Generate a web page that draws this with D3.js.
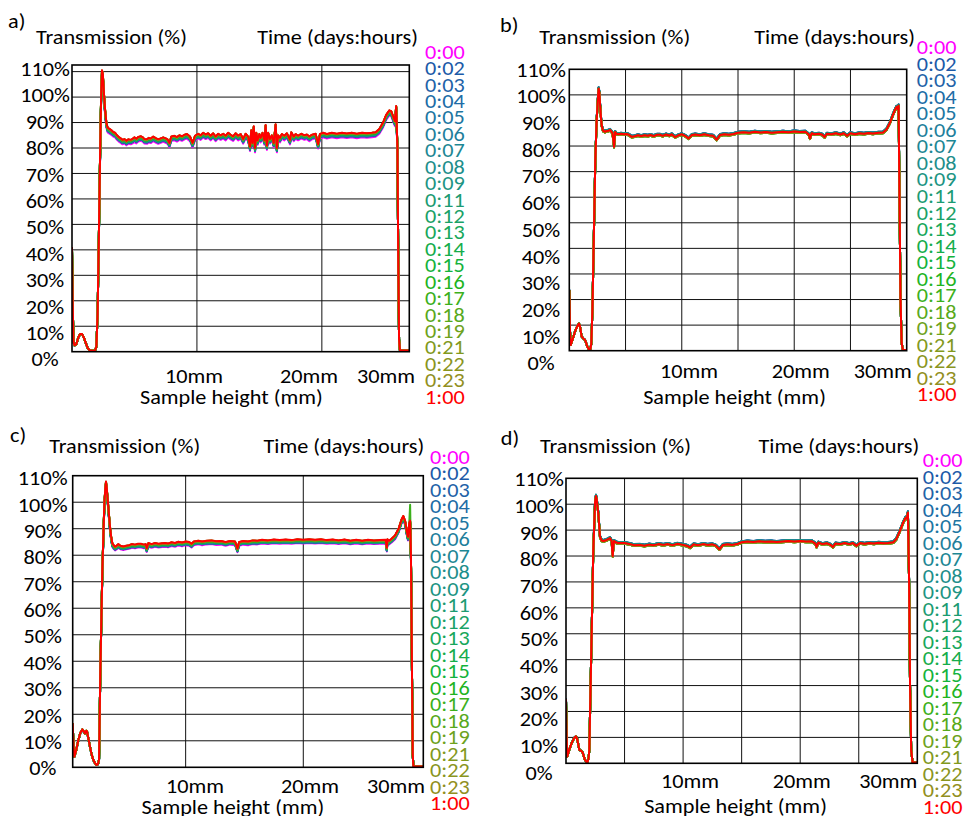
<!DOCTYPE html>
<html>
<head>
<meta charset="utf-8">
<script src="https://cdn.jsdelivr.net/npm/d3@7"></script>
<style>
  html, body { margin: 0; padding: 0; background: #fff; }
  svg { display: block; }
</style>
</head>
<body>
<svg id="chart" width="963" height="816"></svg>
<script>
// ---- Data -----------------------------------------------------------------
// Acquisition times (days:hours), oldest first; last one drawn on top.
const times = ["0:00","0:02","0:03","0:04","0:05","0:06","0:07","0:08","0:09","0:11",
  "0:12","0:13","0:14","0:15","0:16","0:17","0:18","0:19","0:21","0:22","0:23","1:00"];
const timeColors = ["#ff00ff","#1c5aa8","#1f63a8","#206ca6","#2076a2","#1f7f9c","#1e8794",
  "#1e8e8b","#1d9483","#1c9b72","#1aa167","#18a75b","#16ad4b","#14b33c","#22b41f","#3cb01c",
  "#58a91b","#6ea21c","#82991d","#8a951e","#928f21","#ff0000"];

const yTicks = [0,10,20,30,40,50,60,70,80,90,100,110];
const xTicks = [10,20,30];

// Transmission profile of the 1:00 scan (sample height in mm, transmission in %)
const heightA = [0,0.05,0.12,0.2,0.35,0.5,0.65,0.8,0.95,1.1,1.25,1.4,1.6,1.85,1.95,2.05,2.15,2.25,2.33,2.4,
  2.47,2.55,2.65,2.75,2.85,3,3.15,3.3,3.45,3.6,3.75,3.9,4.05,4.2,4.35,4.5,4.7,4.85,5,5.15,
  5.3,5.5,5.65,5.8,6,6.15,6.3,6.5,6.7,6.9,7.1,7.3,7.5,7.65,7.8,7.95,8.2,8.4,8.6,8.8,
  9,9.2,9.45,9.65,9.85,10.1,10.3,10.5,10.7,10.9,11.1,11.3,11.5,11.7,11.9,12.1,12.3,12.5,12.7,12.9,
  13.1,13.3,13.5,13.7,13.9,14.1,14.25,14.35,14.45,14.55,14.65,14.75,14.85,15,15.1,15.25,15.4,15.5,15.6,15.7,
  15.85,16,16.15,16.3,16.4,16.5,16.65,16.8,17,17.2,17.45,17.55,17.75,17.9,18.1,18.35,18.6,18.8,19,19.2,
  19.5,19.7,19.85,20.1,20.4,20.8,21.2,21.6,22,22.4,22.8,23.2,23.6,24,24.3,24.6,24.9,25.15,25.4,25.55,
  25.7,25.85,25.95,26.05,26.12,26.18,26.25,27];
const transA = [41,20,4,2.5,3,5.5,7,7,5.5,3.5,1.5,0.6,0.4,0.5,2,15,45,78,100,110.5,
  109,102,95,90,88,87.5,87,86.3,86,85,84.3,83.8,83.2,83.5,82.8,83.4,83.2,83.6,84.2,83.6,
  84.3,84.6,84.3,83.5,83.4,84,83.7,84.5,83.9,83.4,83.8,84.2,83.8,83.4,82,84.5,84.8,84.3,85,84.6,
  85.2,85.5,84.5,82,84.8,85.6,85,86,85.3,85.8,84.8,85.8,84.5,85.6,85,85.6,84.8,86,85.2,84.6,
  85.8,84.8,85.5,83.5,85.6,84.5,80.5,87,82,88.5,80,86,83,85.5,84,86,83,89,81,86,
  83.5,85,82,89.3,80,85,84,85.5,84.8,85.8,83.2,86.2,84.5,85.5,84.8,85.6,85,85.3,84.5,85.2,
  85.6,81.5,85.5,86,85.5,86,85.6,86,85.7,86,85.6,86,85.8,86,86.2,87.5,90,93,94.8,94.5,
  92.5,90.5,96.5,80,35,5,0.5,0.5];

const heightB = [0,0.06,0.12,0.3,0.5,0.7,0.86,0.95,1.1,1.25,1.4,1.5,1.6,1.75,1.85,1.95,2.05,2.14,2.31,2.43,
  2.55,2.61,2.67,2.73,2.8,2.88,3,3.15,3.33,3.5,3.62,3.75,3.83,3.93,3.98,4.03,4.07,4.2,4.36,4.6,
  4.9,5.1,5.3,5.55,5.8,6.1,6.4,6.7,7,7.2,7.5,7.8,8.07,8.3,8.6,8.9,9.1,9.4,9.7,10,
  10.3,10.6,10.9,11.2,11.6,12,12.4,12.8,13.1,13.4,13.8,14.2,14.6,15,15.5,16,16.5,17,17.5,18,
  18.5,19,19.5,20,20.5,21,21.3,21.4,21.55,21.8,22.2,22.5,22.7,22.9,23.3,23.7,24.1,24.4,24.7,25,
  25.4,25.8,26.2,26.6,27,27.5,27.9,28.2,28.5,28.8,29,29.1,29.2,29.28,29.36,29.45,29.55,29.66,30];
const transB = [23.7,8,2.2,4.5,7.4,9.5,10.6,9.5,5.5,4.8,4.2,3,1.6,0.5,0.3,2.5,15,35,74,90,
  99,102.5,101,96.6,92,88,86,85.6,85.9,86,86.3,85.6,85.2,82,79.7,83,85.5,84.8,84.6,84.8,
  84.6,84.7,84.4,83.6,83.8,84.2,83.9,84.2,84,84.3,83.9,84.4,84.4,84,84.5,84.1,84.6,83.5,84.2,84.6,
  84,83,84.3,84.5,84.2,84.6,84.2,84,82.5,84.3,84.6,84.4,84.7,85.2,85.4,85.2,85.6,85.3,85.5,85.2,
  85.4,85.6,85.4,85.7,85.5,85.6,84.5,83,85,84.6,84.8,84.4,83.5,84.8,84.6,85,84.5,85,84,85,
  84.6,85,84.8,85.1,84.9,85.2,85.3,86.5,89,92.5,94.5,95.3,94.5,95.8,60,20,3,0.3,0.3];

const heightC = [0.4,0.47,0.54,0.7,0.88,1.05,1.22,1.35,1.45,1.55,1.62,1.75,1.87,2,2.15,2.3,2.44,2.55,2.64,2.75,
  2.92,3.09,3.17,3.23,3.3,3.38,3.47,3.57,3.67,3.77,3.88,4,4.14,4.28,4.45,4.7,4.95,5.2,5.42,5.7,
  5.95,6.2,6.45,6.6,6.69,6.83,7.1,7.4,7.7,8,8.25,8.5,8.8,9.1,9.38,9.7,10,10.3,10.5,10.7,
  11.08,11.4,11.8,12.2,12.6,13,13.4,13.8,14.2,14.4,14.55,14.9,15.3,15.7,16.1,16.5,17,17.5,18,18.5,
  19,19.5,20,20.5,21,21.5,22,22.5,23,23.5,24,24.5,25,25.5,26,26.5,27,27.1,27.15,27.3,
  27.5,27.8,28.1,28.35,28.5,28.65,28.8,28.9,29,29.08,29.15,29.23,29.3,29.36,30.2];
const transC = [16.6,8,4,6.5,10.3,13,14.3,13.5,12.8,13.8,13.5,10.5,7.8,5,2.8,1.5,0.9,1.2,3,36.7,
  74.5,99.6,105,107.8,105,100.9,96,90.8,87,84.5,83.8,83.2,83.6,84.2,83.6,83.3,83.6,83.8,84.2,84,
  84.3,84.3,84,84.2,82.6,84.6,84.2,84.6,84.3,84.5,84.6,84.4,84.9,84.6,85.1,84.8,85.2,85,84.3,85.2,
  85.5,85.2,85.5,85.6,85.3,85.4,85,85.4,85.2,82.5,85,85.4,85.2,85.6,85.5,85.8,85.6,85.9,85.7,85.9,
  85.7,86,85.8,86,85.8,86,85.7,85.9,85.6,85.9,85.5,85.8,85.5,85.8,85.6,85.7,85.8,82.8,86,85.5,
  86.2,87.5,90,93.5,94.8,93,89,87,92,93,80,40,5,0.3,0.3];

const heightD = [0,0.05,0.11,0.3,0.48,0.7,0.85,0.95,1.14,1.3,1.42,1.62,1.82,1.93,1.99,2.13,2.33,2.48,2.56,2.62,
  2.76,2.9,3.04,3.2,3.47,3.76,3.9,3.95,3.99,4.05,4.1,4.3,4.47,5,5.47,5.8,6.3,6.7,7.1,7.5,
  7.9,8.3,8.7,9.1,9.5,9.9,10.3,10.6,10.9,11.3,11.7,12.1,12.5,12.8,13.1,13.4,13.8,14.2,14.6,15,
  15.5,16,16.5,17,17.5,18,18.5,19,19.5,20,20.5,21,21.3,21.4,21.55,21.9,22.3,22.6,22.8,23,
  23.4,23.8,24.2,24.5,24.8,25.1,25.5,25.9,26.3,26.7,27.1,27.5,27.95,28.2,28.5,28.8,29,29.1,29.2,29.3,
  29.38,29.48,29.6,30];
const transD = [24.8,10,2.6,5.5,7.8,9.8,10.4,9.5,5.2,4.8,4.2,1.3,0.2,2,5,36.6,82,100.6,103.2,102,
  96.5,87.5,86,85.8,86.2,86.9,85.8,82,80,84,85.8,85.2,85,85,84.6,84.2,84.3,84,84.4,84.2,
  84.6,84.3,84.6,84.2,84.7,84.4,84,83.3,84.5,84.2,84.6,84.3,84.5,84,82.6,84.3,84.5,84.3,84.6,85.3,
  85.6,85.4,85.7,85.5,85.6,85.4,85.6,85.8,85.6,85.8,85.6,85.7,84.8,83.5,85.2,84.6,84.9,84.3,83.5,84.8,
  84.6,85,84.6,85,84,85,84.7,85,84.8,85.1,84.9,85,85.3,86.5,89.5,93,94.8,94.5,96.8,70,
  30,5,0.3,0.3];

// Level of each scan relative to the 1:00 scan, in % points on the ~85 % plateau
const shiftA = [-1.8,-1.3,-1.25,-1.2,-1.1,-1.0,-0.95,-0.9,-0.8,-0.7,-0.6,-0.55,-0.5,-0.45,-0.4,-0.3,-0.25,-0.2,-0.15,-0.1,-0.05,0];
const shiftB = [-0.2,0.4,0.38,0.35,0.33,0.3,0.28,0.25,0.2,0.1,0.0,-0.1,-0.2,-0.25,-0.3,-0.3,-0.3,-0.28,-0.25,-0.2,-0.15,0];
const shiftC = [-1.4,-1.1,-1.05,-1.0,-0.95,-0.9,-0.85,-0.8,-0.7,-0.6,-0.55,-0.5,-0.45,-0.4,-0.35,-0.3,-0.25,-0.2,-0.15,-0.1,-0.05,0];
const shiftD = [-0.2,0.4,0.38,0.35,0.33,0.3,0.28,0.25,0.2,0.1,0.0,-0.1,-0.2,-0.25,-0.3,-0.3,-0.3,-0.28,-0.25,-0.2,-0.15,0];

// Individual readings that depart from the common profile
const spikeC = [{ time: "0:17", height: 29.08, value: 99 }];

// ---- Layout ---------------------------------------------------------------
const panels = [
  { letter: "a)", height: heightA, trans: transA, shift: shiftA, spikes: [],
    left: 72, right: 409.3, top: 65, bottom: 351.7, xDomain: [0, 27], yMax: 112.6, xGrid: [10, 20],
    letterX: 8, letterY: 28, titleY: 43.5, transX: 36, timeRight: 418,
    yLabelX: 45, yLabelRange: [359.3, 69], xLabelRange: [194, 309], xLabelY: 383.3, xLastRight: 415,
    sampleX: 231.3, sampleY: 404, legendX: 425, legendY: [51.7, 396.7] },
  { letter: "b)", height: heightB, trans: transB, shift: shiftB, spikes: [],
    left: 569.3, right: 906.7, top: 69.3, bottom: 350.7, xDomain: [0, 30], yMax: 110, xGrid: [5, 10, 15, 20, 25],
    letterX: 500, letterY: 32, titleY: 43.5, transX: 539.3, timeRight: 915,
    yLabelX: 541, yLabelRange: [363.3, 69.7], xLabelRange: [689, 800.7], xLabelY: 378, xLastRight: 911.7,
    sampleX: 734.5, sampleY: 404, legendX: 916.7, legendY: [47.3, 394.3] },
  { letter: "c)", height: heightC, trans: transC, shift: shiftC, spikes: spikeC,
    left: 72.7, right: 423.3, top: 475.7, bottom: 767.3, xDomain: [0.4, 30.2], yMax: 110, xGrid: [10, 20],
    letterX: 10, letterY: 441.5, titleY: 453.3, transX: 49.3, timeRight: 424.3,
    yLabelX: 42.7, yLabelRange: [768.3, 478.3], xLabelRange: [195, 310], xLabelY: 793.3, xLastRight: 425,
    sampleX: 232.9, sampleY: 813.5, legendX: 430, legendY: [456.7, 803.3] },
  { letter: "d)", height: heightD, trans: transD, shift: shiftD, spikes: [],
    left: 566, right: 917.3, top: 478.3, bottom: 763.3, xDomain: [0, 30], yMax: 110, xGrid: [5, 10, 15, 20, 25],
    letterX: 500.7, letterY: 445, titleY: 453.3, transX: 540, timeRight: 919.3,
    yLabelX: 539, yLabelRange: [772.7, 479.3], xLabelRange: [690, 801.7], xLabelY: 787.7, xLastRight: 917.3,
    sampleX: 735.5, sampleY: 812.5, legendX: 922.7, legendY: [460, 806.7] }
];

const FONT = "Carlito, Calibri, Lato, 'Open Sans', sans-serif";
const FS = 20;
const svg = d3.select("#chart");
svg.append("rect").attr("width", 963).attr("height", 816).attr("fill", "#fff");

// Horizontal squeeze so the fallback font keeps the narrow Calibri-like widths
const probe = svg.append("text").attr("font-family", FONT).attr("font-size", FS).text("Transmission (%)");
const SX = 151 / probe.node().getComputedTextLength();
probe.remove();

function label(g, x, y, s, anchor, fill) {
  return g.append("text")
    .attr("transform", `translate(${x},${y}) scale(${SX},1)`)
    .attr("text-anchor", anchor)
    .attr("font-family", FONT)
    .attr("font-size", FS)
    .attr("fill", fill || "#000")
    .text(s);
}

panels.forEach((p, pi) => {
  const g = svg.append("g");
  const x = d3.scaleLinear().domain(p.xDomain).range([p.left, p.right]);
  const y = d3.scaleLinear().domain([0, p.yMax]).range([p.bottom, p.top]);
  const yLab = d3.scaleLinear().domain([0, 110]).range(p.yLabelRange);
  const xLab = d3.scaleLinear().domain([10, 20]).range(p.xLabelRange);

  // grid
  g.append("g").selectAll("line").data(yTicks.filter(v => v > 0 && v < p.yMax)).join("line")
    .attr("x1", p.left).attr("x2", p.right)
    .attr("y1", d => y(d)).attr("y2", d => y(d))
    .attr("stroke", "#111").attr("stroke-width", 1);
  g.append("g").selectAll("line").data(p.xGrid).join("line")
    .attr("x1", d => x(d)).attr("x2", d => x(d))
    .attr("y1", p.top).attr("y2", p.bottom)
    .attr("stroke", "#111").attr("stroke-width", 1);

  // curves
  const clipId = "clip" + pi;
  g.append("clipPath").attr("id", clipId).append("rect")
    .attr("x", p.left).attr("y", p.top).attr("width", p.right - p.left).attr("height", p.bottom - p.top);
  const line = d3.line().x(d => x(d[0])).y(d => y(d[1]));
  const curves = g.append("g").attr("clip-path", `url(#${clipId})`);
  times.forEach((t, i) => {
    const pts = p.height.map((h, k) => {
      const own = p.spikes.find(s => s.time === t && s.height === h);
      const v = own ? own.value : p.trans[k] * (1 + p.shift[i] / 85);
      return [h, v];
    });
    curves.append("path").datum(pts)
      .attr("d", line)
      .attr("fill", "none")
      .attr("stroke", timeColors[i])
      .attr("stroke-width", 2)
      .attr("stroke-linejoin", "round");
  });

  // frame
  g.append("rect").attr("x", p.left).attr("y", p.top)
    .attr("width", p.right - p.left).attr("height", p.bottom - p.top)
    .attr("fill", "none").attr("stroke", "#000").attr("stroke-width", 1.6);

  // y tick labels
  yTicks.forEach(v => label(g, p.yLabelX, yLab(v) + 7, v + "%", "middle"));

  // x tick labels
  xTicks.forEach(v => {
    if (v < 30) label(g, xLab(v), p.xLabelY, v + "mm", "middle");
    else label(g, p.xLastRight, p.xLabelY, v + "mm", "end");
  });

  // titles
  label(g, p.letterX, p.letterY, p.letter, "start");
  label(g, p.transX, p.titleY, "Transmission (%)", "start");
  label(g, p.timeRight, p.titleY, "Time (days:hours)", "end");
  label(g, p.sampleX, p.sampleY, "Sample height (mm)", "middle");

  // time legend
  const ly = d3.scaleLinear().domain([0, times.length - 1]).range(p.legendY);
  times.forEach((t, i) => label(g, p.legendX, ly(i) + 7, t, "start", timeColors[i]));
});
</script>
</body>
</html>
